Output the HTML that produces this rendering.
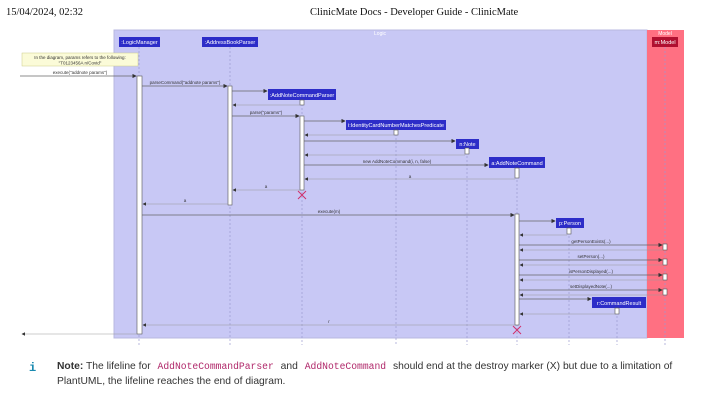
<!DOCTYPE html>
<html><head><meta charset="utf-8"><style>
body{margin:0;width:720px;height:410px;background:#fff;position:relative;overflow:hidden;font-family:"Liberation Sans",sans-serif}
.hd{position:absolute;top:7px;font-family:"Liberation Serif",serif;font-size:10.5px;color:#111}
.txt{position:absolute;left:57px;font-size:10.3px;color:#333;line-height:15px}
code{font-family:"Liberation Mono",monospace;color:#b0286a;font-size:9.7px;padding:0 4px}
</style></head><body>
<div class="hd" style="left:6px">15/04/2024, 02:32</div>
<div class="hd" style="left:310px">ClinicMate Docs - Developer Guide - ClinicMate</div>
<svg width="720" height="410" style="position:absolute;left:0;top:0" font-family="Liberation Sans, sans-serif">
<defs><marker id="a" markerWidth="6" markerHeight="6" refX="5" refY="3" orient="auto"><path d="M0,0L6,3L0,6z" fill="#333"/></marker></defs>
<rect x="114" y="30" width="533" height="308" fill="#c8c8f5" stroke="#b8b8e0"/>
<rect x="647" y="30" width="37" height="308" fill="#ff7082"/>
<text x="380" y="35" font-size="5" fill="#fff" text-anchor="middle">Logic</text>
<text x="665" y="35" font-size="5" fill="#fff" text-anchor="middle">Model</text>
<g stroke="#9a9ad0" stroke-dasharray="2,2" stroke-width="0.7">
<line x1="139" y1="47" x2="139" y2="345"/><line x1="230" y1="47" x2="230" y2="345"/><line x1="302" y1="100" x2="302" y2="345"/><line x1="396" y1="130" x2="396" y2="345"/><line x1="467" y1="148" x2="467" y2="345"/><line x1="517" y1="168" x2="517" y2="345"/><line x1="569" y1="228" x2="569" y2="345"/><line x1="617" y1="308" x2="617" y2="345"/><line x1="665" y1="47" x2="665" y2="345"/>
</g>
<g font-size="5.5" fill="#fff" text-anchor="middle">
<rect x="119" y="37" width="41" height="10" fill="#2d2dc8"/><text x="139.5" y="44">:LogicManager</text>
<rect x="202" y="37" width="56" height="10" fill="#2d2dc8"/><text x="230" y="44">:AddressBookParser</text>
<rect x="268" y="89" width="68" height="11" fill="#2d2dc8"/><text x="302" y="97">:AddNoteCommandParser</text>
<rect x="346" y="120" width="100" height="10" fill="#2d2dc8"/><text x="396" y="127">i:IdentityCardNumberMatchesPredicate</text>
<rect x="456" y="139" width="23" height="10" fill="#2d2dc8"/><text x="467.5" y="146">n:Note</text>
<rect x="489" y="157" width="56" height="11" fill="#2d2dc8"/><text x="517" y="165">a:AddNoteCommand</text>
<rect x="556" y="218" width="28" height="10" fill="#2d2dc8"/><text x="570" y="225">p:Person</text>
<rect x="592" y="297" width="54" height="11" fill="#2d2dc8"/><text x="619" y="305">r:CommandResult</text>
<rect x="652" y="37" width="26" height="10" fill="#b01030"/><text x="665" y="44">m:Model</text>
</g>
<rect x="22" y="53" width="116" height="13" fill="#fbfbd8" stroke="#cccc88" stroke-width="0.5"/>
<text x="80" y="59" font-size="4.5" text-anchor="middle" fill="#333">In the diagram, params refers to the following:</text>
<text x="80" y="64.5" font-size="4.5" text-anchor="middle" fill="#333">"T0123456A n/Covid"</text>
<g fill="#fff" stroke="#555" stroke-width="0.6">
<rect x="137" y="76" width="5" height="258"/><rect x="228" y="86" width="4" height="119"/><rect x="300" y="100" width="4" height="5"/><rect x="300" y="116" width="4" height="74"/><rect x="394" y="130" width="4" height="5"/><rect x="465" y="148" width="4" height="6"/><rect x="515" y="168" width="4" height="10"/><rect x="515" y="214" width="4" height="111"/><rect x="567" y="228" width="4" height="6"/><rect x="615" y="308" width="4" height="6"/>
<rect x="663" y="244" width="4" height="6"/><rect x="663" y="259" width="4" height="6"/><rect x="663" y="274" width="4" height="6"/><rect x="663" y="289" width="4" height="6"/>
</g>
<g stroke="#666" stroke-width="0.7" marker-end="url(#a)">
<line x1="20" y1="76" x2="136" y2="76"/><line x1="142" y1="86" x2="227" y2="86"/><line x1="232" y1="91" x2="267" y2="91"/>
<line x1="232" y1="116" x2="299" y2="116"/><line x1="304" y1="121" x2="345" y2="121"/><line x1="304" y1="141" x2="455" y2="141"/><line x1="304" y1="165" x2="488" y2="165"/>
<line x1="142" y1="215" x2="514" y2="215"/><line x1="519" y1="221" x2="555" y2="221"/>
<line x1="519" y1="245" x2="662" y2="245"/><line x1="519" y1="260" x2="662" y2="260"/><line x1="519" y1="275" x2="662" y2="275"/><line x1="519" y1="290" x2="662" y2="290"/><line x1="519" y1="299" x2="591" y2="299"/>
</g>
<g stroke="#999" stroke-width="0.6" marker-end="url(#a)">
<line x1="300" y1="105" x2="233" y2="105"/><line x1="394" y1="135" x2="305" y2="135"/><line x1="465" y1="155" x2="305" y2="155"/><line x1="515" y1="179" x2="305" y2="179"/><line x1="300" y1="190" x2="233" y2="190"/><line x1="228" y1="204" x2="143" y2="204"/>
<line x1="567" y1="235" x2="520" y2="235"/><line x1="663" y1="250" x2="520" y2="250"/><line x1="663" y1="265" x2="520" y2="265"/><line x1="663" y1="280" x2="520" y2="280"/><line x1="663" y1="295" x2="520" y2="295"/><line x1="615" y1="314" x2="520" y2="314"/><line x1="515" y1="325" x2="143" y2="325"/><line x1="137" y1="334" x2="22" y2="334"/>
</g>
<g font-size="4.5" fill="#333" text-anchor="middle">
<text x="80" y="74">execute("addnote params")</text><text x="185" y="84">parseCommand("addnote params")</text><text x="266" y="114">parse("params")</text>
<text x="397" y="163">new AddNoteCommand(i, n, false)</text><text x="410" y="178">a</text><text x="266" y="188">a</text><text x="185" y="202">a</text>
<text x="329" y="213">execute(m)</text><text x="591" y="243">getPersonExists(...)</text><text x="591" y="258">setPerson(...)</text><text x="591" y="273">isPersonDisplayed(...)</text><text x="591" y="288">setDisplayedNote(...)</text><text x="329" y="323">r</text>
</g>
<g stroke="#d0306a" stroke-width="1"><path d="M298,191l8,8M306,191l-8,8M513,326l8,8M521,326l-8,8"/></g>
<text x="29" y="371" font-size="12" font-weight="bold" fill="#1a8ab0" font-family="Liberation Mono, monospace">i</text>
</svg>
<div class="txt" style="top:359px"><b>Note:</b> The lifeline for <code>AddNoteCommandParser</code> and <code>AddNoteCommand</code> should end at the destroy marker (X) but due to a limitation of</div>
<div class="txt" style="top:374px">PlantUML, the lifeline reaches the end of diagram.</div>
</body></html>
